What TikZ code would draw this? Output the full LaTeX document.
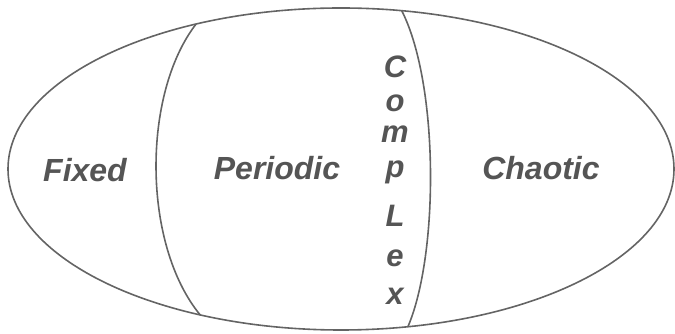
\documentclass[tikz,border=0pt]{standalone}
\usepackage{fontspec}
\usepackage{xcolor}
\usetikzlibrary{shapes.geometric}
\newfontfamily\labelfont{Liberation Sans}
\definecolor{inkgray}{HTML}{646464}
\definecolor{txtgray}{HTML}{555555}

\begin{document}
\begin{tikzpicture}[
    x=1pt, y=1pt,
    border/.style={draw=inkgray, line width=1.6pt},
    region/.style={text=txtgray, anchor=base, inner sep=0pt, font=\labelfont\bfseries\itshape\fontsize{32}{36}\selectfont},
    lettr/.style={text=txtgray, anchor=base, inner sep=0pt, font=\labelfont\bfseries\itshape\fontsize{31}{34}\selectfont}
  ]
    \useasboundingbox (0,0) rectangle (675,334);
    \node[border, ellipse, minimum width=666pt, minimum height=322pt, inner sep=0pt, outer sep=0pt] (set) at (341,165) {};

    % boundaries between the regions
    \draw[border] (set.135.7) .. controls (142,240) and (142,90) .. (set.226);
    \draw[border] (set.69.6) .. controls (439,250) and (439,80) .. (set.293);

    \node[region] (fixed) at (85,152) {Fixed};
    \node[region] (periodic) at (277,154) {Periodic};
    \node[region] (chaotic) at (541,154) {Chaotic};
    \foreach \ch/\yy in {C/256, o/222, m/191, p/156, L/107, e/67, x/29}
      \node[lettr] (cx-\ch) at (395,\yy) {\ch};
  \end{tikzpicture}
\end{document}
